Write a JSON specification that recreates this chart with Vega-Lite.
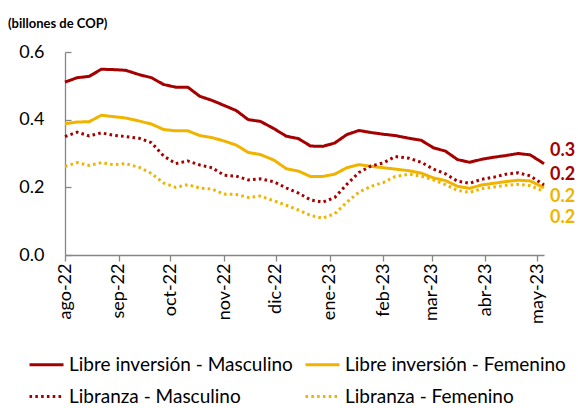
{
  "$schema": "https://vega.github.io/schema/vega-lite/v6.json",
  "width": 479,
  "height": 203,
  "autosize": {"type": "none"},
  "padding": {"left": 65, "top": 52, "right": 34, "bottom": 153},
  "background": "white",
  "title": {"text": "(billones de COP)", "anchor": "start", "frame": "group", "dx": -57, "offset": 12, "font": "Lato", "fontSize": 13, "fontWeight": "bold", "color": "#000000"},
  "config": {
    "view": {"stroke": null},
    "font": "Lato",
    "axis": {"grid": false, "labelFont": "Lato", "labelColor": "#000000", "domainColor": "#868686", "tickColor": "#868686", "domainWidth": 1.3, "tickWidth": 1.3, "title": null}
  },
  "data": {"values": [
    {"fecha": "2022-08-01", "LIM": 0.511, "LIF": 0.388, "LRM": 0.350, "LRF": 0.262},
    {"fecha": "2022-08-08", "LIM": 0.524, "LIF": 0.393, "LRM": 0.363, "LRF": 0.273},
    {"fecha": "2022-08-15", "LIM": 0.528, "LIF": 0.394, "LRM": 0.352, "LRF": 0.265},
    {"fecha": "2022-08-22", "LIM": 0.549, "LIF": 0.413, "LRM": 0.361, "LRF": 0.273},
    {"fecha": "2022-08-29", "LIM": 0.548, "LIF": 0.409, "LRM": 0.354, "LRF": 0.267},
    {"fecha": "2022-09-05", "LIM": 0.546, "LIF": 0.405, "LRM": 0.350, "LRF": 0.270},
    {"fecha": "2022-09-13", "LIM": 0.533, "LIF": 0.396, "LRM": 0.345, "LRF": 0.259},
    {"fecha": "2022-09-20", "LIM": 0.524, "LIF": 0.387, "LRM": 0.332, "LRF": 0.241},
    {"fecha": "2022-09-27", "LIM": 0.504, "LIF": 0.371, "LRM": 0.293, "LRF": 0.213},
    {"fecha": "2022-10-04", "LIM": 0.496, "LIF": 0.367, "LRM": 0.270, "LRF": 0.200},
    {"fecha": "2022-10-11", "LIM": 0.496, "LIF": 0.367, "LRM": 0.278, "LRF": 0.208},
    {"fecha": "2022-10-18", "LIM": 0.469, "LIF": 0.353, "LRM": 0.266, "LRF": 0.198},
    {"fecha": "2022-10-25", "LIM": 0.457, "LIF": 0.347, "LRM": 0.258, "LRF": 0.195},
    {"fecha": "2022-11-01", "LIM": 0.442, "LIF": 0.337, "LRM": 0.236, "LRF": 0.180},
    {"fecha": "2022-11-08", "LIM": 0.427, "LIF": 0.325, "LRM": 0.233, "LRF": 0.179},
    {"fecha": "2022-11-15", "LIM": 0.400, "LIF": 0.303, "LRM": 0.222, "LRF": 0.170},
    {"fecha": "2022-11-22", "LIM": 0.395, "LIF": 0.297, "LRM": 0.225, "LRF": 0.174},
    {"fecha": "2022-11-30", "LIM": 0.373, "LIF": 0.280, "LRM": 0.216, "LRF": 0.160},
    {"fecha": "2022-12-07", "LIM": 0.351, "LIF": 0.255, "LRM": 0.198, "LRF": 0.147},
    {"fecha": "2022-12-14", "LIM": 0.344, "LIF": 0.248, "LRM": 0.183, "LRF": 0.133},
    {"fecha": "2022-12-21", "LIM": 0.322, "LIF": 0.232, "LRM": 0.163, "LRF": 0.117},
    {"fecha": "2022-12-28", "LIM": 0.321, "LIF": 0.232, "LRM": 0.156, "LRF": 0.109},
    {"fecha": "2023-01-04", "LIM": 0.331, "LIF": 0.239, "LRM": 0.170, "LRF": 0.122},
    {"fecha": "2023-01-11", "LIM": 0.356, "LIF": 0.258, "LRM": 0.209, "LRF": 0.156},
    {"fecha": "2023-01-18", "LIM": 0.368, "LIF": 0.267, "LRM": 0.244, "LRF": 0.186},
    {"fecha": "2023-01-25", "LIM": 0.362, "LIF": 0.262, "LRM": 0.263, "LRF": 0.203},
    {"fecha": "2023-02-01", "LIM": 0.357, "LIF": 0.258, "LRM": 0.272, "LRF": 0.214},
    {"fecha": "2023-02-08", "LIM": 0.353, "LIF": 0.254, "LRM": 0.291, "LRF": 0.232},
    {"fecha": "2023-02-16", "LIM": 0.345, "LIF": 0.249, "LRM": 0.286, "LRF": 0.239},
    {"fecha": "2023-02-23", "LIM": 0.339, "LIF": 0.242, "LRM": 0.274, "LRF": 0.233},
    {"fecha": "2023-03-02", "LIM": 0.317, "LIF": 0.228, "LRM": 0.254, "LRF": 0.222},
    {"fecha": "2023-03-09", "LIM": 0.307, "LIF": 0.220, "LRM": 0.240, "LRF": 0.208},
    {"fecha": "2023-03-16", "LIM": 0.282, "LIF": 0.203, "LRM": 0.218, "LRF": 0.191},
    {"fecha": "2023-03-23", "LIM": 0.274, "LIF": 0.197, "LRM": 0.212, "LRF": 0.185},
    {"fecha": "2023-03-30", "LIM": 0.283, "LIF": 0.207, "LRM": 0.224, "LRF": 0.196},
    {"fecha": "2023-04-06", "LIM": 0.289, "LIF": 0.212, "LRM": 0.230, "LRF": 0.201},
    {"fecha": "2023-04-13", "LIM": 0.294, "LIF": 0.217, "LRM": 0.239, "LRF": 0.206},
    {"fecha": "2023-04-20", "LIM": 0.300, "LIF": 0.221, "LRM": 0.243, "LRF": 0.209},
    {"fecha": "2023-04-27", "LIM": 0.296, "LIF": 0.219, "LRM": 0.234, "LRF": 0.205},
    {"fecha": "2023-05-05", "LIM": 0.270, "LIF": 0.199, "LRM": 0.207, "LRF": 0.188}
  ]},
  "transform": [
    {"fold": ["LIM", "LIF", "LRM", "LRF"], "as": ["clave", "valor"]},
    {"lookup": "clave", "from": {"data": {"values": [
      {"clave": "LIM", "serie": "Libre inversión - Masculino"},
      {"clave": "LIF", "serie": "Libre inversión - Femenino"},
      {"clave": "LRM", "serie": "Libranza - Masculino"},
      {"clave": "LRF", "serie": "Libranza - Femenino"}
    ]}, "key": "clave", "fields": ["serie"]}}
  ],
  "encoding": {
    "x": {"field": "fecha", "type": "temporal",
      "scale": {"type": "utc", "domain": ["2022-08-01", "2023-05-05"]},
      "axis": {"tickCount": {"interval": "month", "step": 1}, "labelAngle": -90, "labelFontSize": 18, "labelPadding": 2, "tickSize": 6, "labelOverlap": false, "labelFlush": false,
        "labelExpr": "['ene','feb','mar','abr','may','jun','jul','ago','sep','oct','nov','dic'][utcmonth(datum.value)] + '-' + utcFormat(datum.value, '%y')"}},
    "y": {"field": "valor", "type": "quantitative",
      "scale": {"domain": [0, 0.6], "nice": false},
      "axis": {"values": [0, 0.2, 0.4, 0.6], "format": ".1f", "labelFontSize": 18, "tickSize": -6, "labelPadding": 27}}
  },
  "layer": [
    {
      "mark": {"type": "line", "strokeWidth": 3},
      "encoding": {
        "color": {"field": "serie", "type": "nominal",
          "scale": {"domain": ["Libre inversión - Masculino", "Libre inversión - Femenino", "Libranza - Masculino", "Libranza - Femenino"], "range": ["#A50000", "#F0B400", "#A50000", "#F0B400"]},
          "legend": {"orient": "none", "legendX": -37, "legendY": 294, "padding": 0, "columns": 2, "direction": "horizontal", "title": null, "symbolType": "stroke", "symbolSize": 1156, "symbolStrokeWidth": 3, "labelFont": "Lato", "labelFontSize": 19, "labelColor": "#000000", "labelOffset": 4, "columnPadding": 6, "rowPadding": 3, "labelLimit": 400}},
        "strokeDash": {"field": "serie", "type": "nominal",
          "scale": {"domain": ["Libre inversión - Masculino", "Libre inversión - Femenino", "Libranza - Masculino", "Libranza - Femenino"], "range": [[1, 0], [1, 0], [2.6, 3.2], [2.6, 3.2]]},
          "legend": null}
      }
    },
    {
      "transform": [{"filter": "datum.clave == 'LIM' && utcFormat(datum.fecha, '%Y-%m-%d') == '2023-05-05'"}],
      "mark": {"type": "text", "align": "left", "baseline": "middle", "dx": 6, "dy": -13, "font": "Lato", "fontSize": 18, "fontWeight": "bold", "color": "#A50000"},
      "encoding": {"text": {"field": "valor", "type": "quantitative", "format": ".1f"}}
    },
    {
      "transform": [{"filter": "datum.clave == 'LRM' && utcFormat(datum.fecha, '%Y-%m-%d') == '2023-05-05'"}],
      "mark": {"type": "text", "align": "left", "baseline": "middle", "dx": 6, "dy": -9.5, "font": "Lato", "fontSize": 18, "fontWeight": "bold", "color": "#A50000"},
      "encoding": {"text": {"field": "valor", "type": "quantitative", "format": ".1f"}}
    },
    {
      "transform": [{"filter": "datum.clave == 'LIF' && utcFormat(datum.fecha, '%Y-%m-%d') == '2023-05-05'"}],
      "mark": {"type": "text", "align": "left", "baseline": "middle", "dx": 6, "dy": 9, "font": "Lato", "fontSize": 18, "fontWeight": "bold", "color": "#F0B400"},
      "encoding": {"text": {"field": "valor", "type": "quantitative", "format": ".1f"}}
    },
    {
      "transform": [{"filter": "datum.clave == 'LRF' && utcFormat(datum.fecha, '%Y-%m-%d') == '2023-05-05'"}],
      "mark": {"type": "text", "align": "left", "baseline": "middle", "dx": 6, "dy": 26.5, "font": "Lato", "fontSize": 18, "fontWeight": "bold", "color": "#F0B400"},
      "encoding": {"text": {"field": "valor", "type": "quantitative", "format": ".1f"}}
    }
  ]
}
